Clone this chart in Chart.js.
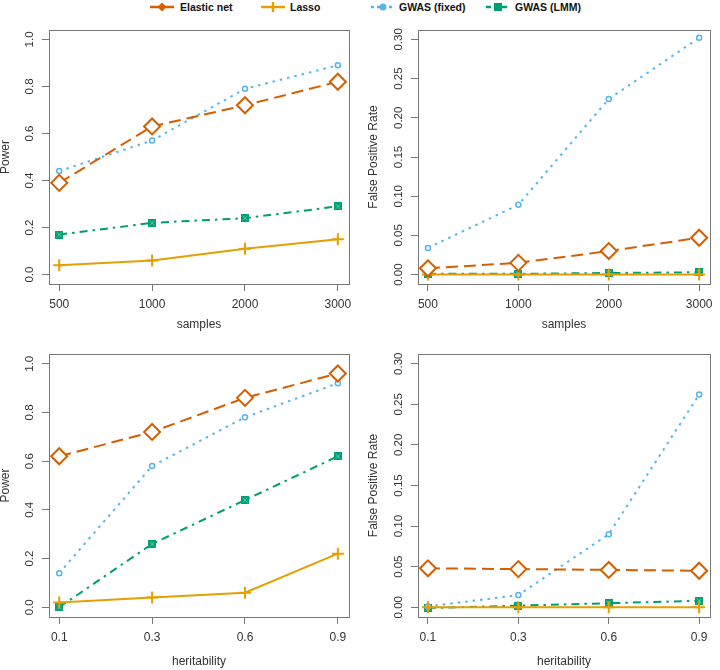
<!DOCTYPE html>
<html>
<head>
<meta charset="utf-8">
<script src="https://cdn.jsdelivr.net/npm/chart.js@4.4.1/dist/chart.umd.min.js"></script>
<style>
  body { margin: 0; background: #fff; }
  #wrap { position: relative; width: 720px; height: 670px; overflow: hidden; font-family: "Liberation Sans", Arial, sans-serif; }
  #wrap canvas.panel { position: absolute; }
  .leg { position: absolute; top: 0; height: 14px; line-height: 14px; font-weight: bold; font-size: 10.5px; color: #111; white-space: nowrap; }
  .sw { position: absolute; top: 1px; }
</style>
</head>
<body>
<div id="wrap">
  <canvas class="sw" id="sw0" width="24" height="12" style="left:150px"></canvas>
  <div class="leg" style="left:180px">Elastic net</div>
  <canvas class="sw" id="sw1" width="24" height="12" style="left:261px"></canvas>
  <div class="leg" style="left:290px">Lasso</div>
  <canvas class="sw" id="sw2" width="24" height="12" style="left:371px"></canvas>
  <div class="leg" style="left:399px">GWAS (fixed)</div>
  <canvas class="sw" id="sw3" width="24" height="12" style="left:486px"></canvas>
  <div class="leg" style="left:515px">GWAS (LMM)</div>

  <canvas class="panel" id="c1" width="360" height="315" style="left:0;top:20px"></canvas>
  <canvas class="panel" id="c2" width="360" height="315" style="left:360px;top:20px"></canvas>
  <canvas class="panel" id="c3" width="360" height="335" style="left:0;top:335px"></canvas>
  <canvas class="panel" id="c4" width="360" height="335" style="left:360px;top:335px"></canvas>
</div>
<script>
// categories and tick labels
const sampleLabels = ["500", "1000", "2000", "3000"];
const heritLabels = ["0.1", "0.3", "0.6", "0.9"];
const seriesNames = ["Elastic net", "Lasso", "GWAS (fixed)", "GWAS (LMM)"];
const powerTicks = [0, 0.2, 0.4, 0.6, 0.8, 1.0];
const fprTicks = [0, 0.05, 0.10, 0.15, 0.20, 0.25, 0.30];

// power vs samples
const powSampElastic = [0.39, 0.63, 0.72, 0.82];
const powSampLasso = [0.04, 0.06, 0.11, 0.15];
const powSampFixed = [0.44, 0.57, 0.79, 0.89];
const powSampLmm = [0.17, 0.22, 0.24, 0.29];

// false positive rate vs samples
const fprSampElastic = [0.008, 0.015, 0.030, 0.047];
const fprSampLasso = [0.000, 0.000, 0.000, 0.000];
const fprSampFixed = [0.034, 0.089, 0.224, 0.302];
const fprSampLmm = [0.001, 0.001, 0.002, 0.003];

// power vs heritability
const powHerElastic = [0.62, 0.72, 0.86, 0.96];
const powHerLasso = [0.02, 0.04, 0.06, 0.22];
const powHerFixed = [0.14, 0.58, 0.78, 0.92];
const powHerLmm = [0.00, 0.26, 0.44, 0.62];

// false positive rate vs heritability
const fprHerElastic = [0.048, 0.047, 0.046, 0.045];
const fprHerLasso = [0.000, 0.000, 0.000, 0.000];
const fprHerFixed = [0.001, 0.015, 0.090, 0.262];
const fprHerLmm = [-0.001, 0.002, 0.005, 0.008];

const colors = ["#D55E00", "#E69F00", "#56B4E9", "#009E73"];
const dashes = [[12, 6], [], [2.5, 5], [8, 5, 2.5, 5]];

// square-with-cross marker like R pch 7
function lmmMarker() {
  const c = document.createElement("canvas");
  c.width = 8; c.height = 8;
  const g = c.getContext("2d");
  g.fillStyle = colors[3];
  g.fillRect(0, 0, 8, 8);
  g.strokeStyle = "#5cc7a6";
  g.lineWidth = 1;
  g.beginPath();
  g.moveTo(1.5, 1.5); g.lineTo(6.5, 6.5);
  g.moveTo(6.5, 1.5); g.lineTo(1.5, 6.5);
  g.stroke();
  return c;
}
const lmmImg = lmmMarker();

const pointStyles = [
  { pointStyle: "rectRot", pointRadius: 8, pointBorderWidth: 2, pointBackgroundColor: "#fff" },
  { pointStyle: "cross", pointRadius: 6, pointBorderWidth: 2, pointBackgroundColor: colors[1] },
  { pointStyle: "circle", pointRadius: 2.5, pointBorderWidth: 1.5, pointBackgroundColor: "#fff" },
  { pointStyle: lmmImg, pointRadius: 4, pointBorderWidth: 0, pointBackgroundColor: colors[3] }
];

const boxPlugin = {
  id: "rbox",
  beforeDatasetsDraw(chart) {
    const { ctx, chartArea: a } = chart;
    ctx.save();
    ctx.strokeStyle = "#777";
    ctx.lineWidth = 1;
    ctx.strokeRect(Math.round(a.left) + 0.5, Math.round(a.top) + 0.5,
      Math.round(a.right - a.left), Math.round(a.bottom - a.top));
    ctx.restore();
  }
};

const xTickFont = { family: "'Liberation Sans', Arial, sans-serif", size: 12 };
const yTickFont = { family: "'Liberation Sans', Arial, sans-serif", size: 11.5 };
const titleFont = { family: "'Liberation Sans', Arial, sans-serif", size: 12, lineHeight: 1 };

function noPad(s) {
  s.paddingTop = 0; s.paddingBottom = 0; s.paddingLeft = 0; s.paddingRight = 0;
}

function makePanel(id, xLabels, series, yTicks, yDigits, yTop, xTitle, yTitle, g) {
  const yPad = yTop * 0.04;
  return new Chart(document.getElementById(id), {
    type: "line",
    data: {
      datasets: series.map((vals, k) => Object.assign({
        label: seriesNames[k],
        data: vals.map((v, i) => ({ x: i, y: v })),
        borderColor: colors[k],
        pointBorderColor: colors[k],
        borderWidth: 2,
        borderDash: dashes[k],
        fill: false,
        tension: 0,
        clip: false
      }, pointStyles[k]))
    },
    options: {
      responsive: false,
      animation: false,
      layout: { padding: { top: g.top, right: g.right, left: 0, bottom: 0 } },
      plugins: { legend: { display: false }, tooltip: { enabled: false } },
      scales: {
        x: {
          type: "linear", min: -0.11, max: 3.12,
          afterBuildTicks: s => { s.ticks = xLabels.map((_, i) => ({ value: i })); },
          afterFit: s => { s.height = g.xh; noPad(s); },
          ticks: { callback: v => xLabels[v], color: "#333", font: xTickFont, padding: 6, maxRotation: 0, autoSkip: false },
          grid: { drawOnChartArea: false, drawTicks: true, tickLength: 7, color: "#777" },
          border: { display: false },
          title: { display: true, text: xTitle, color: "#333", font: titleFont, padding: { top: 0, bottom: g.xtb } }
        },
        y: {
          min: -yPad, max: yTop + yPad,
          afterBuildTicks: s => { s.ticks = yTicks.map(v => ({ value: v })); },
          afterFit: s => { s.width = g.yw; noPad(s); },
          ticks: { callback: v => v.toFixed(yDigits), color: "#333", font: yTickFont, padding: g.ytp, minRotation: 90, maxRotation: 90, crossAlign: "center", autoSkip: false },
          grid: { drawOnChartArea: false, drawTicks: true, tickLength: 7, color: "#777" },
          border: { display: false },
          title: { display: true, text: yTitle, color: "#333", font: titleFont, padding: { top: g.ytt, bottom: 0 } }
        }
      }
    },
    plugins: [boxPlugin]
  });
}

makePanel("c1", sampleLabels, [powSampElastic, powSampLasso, powSampFixed, powSampLmm],
  powerTicks, 1, 1.0, "samples", "Power",
  { top: 2, right: 11, xh: 51, yw: 49, xtb: 4, ytp: 4, ytt: 0 });
makePanel("c2", sampleLabels, [fprSampElastic, fprSampLasso, fprSampFixed, fprSampLmm],
  fprTicks, 2, 0.30, "samples", "False Positive Rate",
  { top: 2, right: 1, xh: 51, yw: 58, xtb: 4, ytp: 1, ytt: 8 });
makePanel("c3", heritLabels, [powHerElastic, powHerLasso, powHerFixed, powHerLmm],
  powerTicks, 1, 1.0, "heritability", "Power",
  { top: 19, right: 11, xh: 53, yw: 49, xtb: 2, ytp: 4, ytt: 0 });
makePanel("c4", heritLabels, [fprHerElastic, fprHerLasso, fprHerFixed, fprHerLmm],
  fprTicks, 2, 0.30, "heritability", "False Positive Rate",
  { top: 19, right: 1, xh: 53, yw: 58, xtb: 2, ytp: 1, ytt: 8 });

// legend swatches
colors.forEach((col, k) => {
  const g = document.getElementById("sw" + k).getContext("2d");
  g.strokeStyle = col; g.fillStyle = col; g.lineWidth = 2.5;
  g.setLineDash(k === 2 ? [3, 3] : k === 3 ? [5, 3] : []);
  g.beginPath(); g.moveTo(0, 6); g.lineTo(24, 6); g.stroke();
  g.setLineDash([]);
  g.beginPath();
  if (k === 0) { g.moveTo(12, 1.5); g.lineTo(16.5, 6); g.lineTo(12, 10.5); g.lineTo(7.5, 6); g.closePath(); g.fill(); }
  if (k === 1) { g.moveTo(12, 1); g.lineTo(12, 11); g.stroke(); }
  if (k === 2) { g.arc(12, 6, 3.5, 0, Math.PI * 2); g.fill(); }
  if (k === 3) { g.fillRect(8, 2, 8, 8); }
});
</script>
</body>
</html>
